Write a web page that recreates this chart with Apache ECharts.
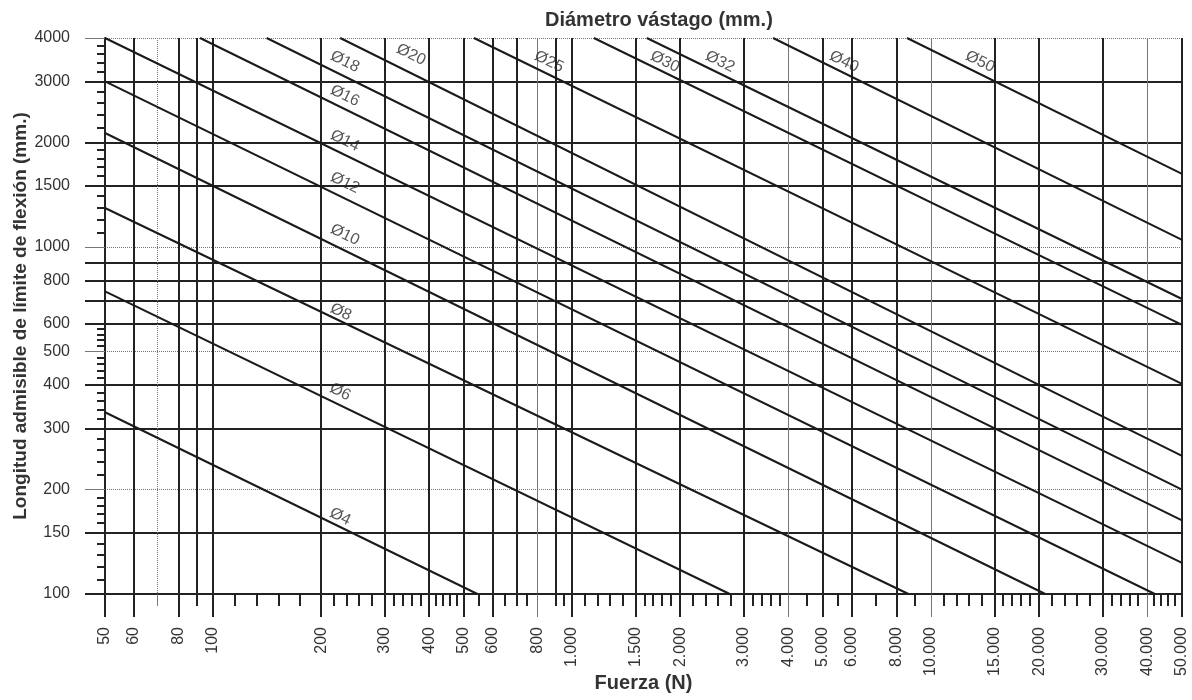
<!DOCTYPE html>
<html>
<head>
<meta charset="utf-8">
<title>Longitud admisible de límite de flexión</title>
<script src="https://cdn.jsdelivr.net/npm/echarts@6/dist/echarts.min.js"></script>
<style>
  html, body { margin: 0; padding: 0; background: #fff; }
  #flexChart { width: 1192px; height: 700px; }
</style>
</head>
<body>
<div id="flexChart"></div>
<script>
/* diámetros del vástago */
var diametros = ['Ø4', 'Ø6', 'Ø8', 'Ø10', 'Ø12', 'Ø14', 'Ø16', 'Ø18', 'Ø20', 'Ø25', 'Ø30', 'Ø32', 'Ø40', 'Ø50'];

/* punto inicial de cada recta [fuerza N, longitud mm] */
var inicio = [
    [50, 334], [50, 745], [50, 1295], [50, 2130], [50, 3000], [50, 4000], [92, 4000],
    [141, 4000], [226, 4000], [533, 4000], [1150, 4000], [1615, 4000], [3630, 4000], [8570, 4000]
];

/* punto final de cada recta */
var fin = [
    [545, 100], [2750, 100], [8650, 100], [20800, 100], [42000, 100], [50000, 123], [50000, 163],
    [50000, 200], [50000, 250], [50000, 403], [50000, 596], [50000, 708], [50000, 1048], [50000, 1624]
];

/* donde va el rotulo de cada diametro */
var rotulo = [
    [226, 167], [226, 382], [227, 649], [233, 1083], [233, 1530], [233, 2022], [233, 2726],
    [233, 3417], [356, 3579], [863, 3417], [1814, 3417], [2583, 3417], [5722, 3417], [13685, 3417]
];

/* eje X (fuerza) */
var xGrueso = [50, 60, 80, 100, 200, 300, 400, 500, 600, 1000, 1500, 2000, 3000, 5000, 6000, 8000, 15000, 20000, 30000, 50000];
var xFino = [800, 4000, 10000, 40000];
var xSinTexto = [90, 700, 900];
var xSinTextoFino = [70];
var xMenor = [115, 132, 152, 174, 217, 235, 255, 277, 318, 337, 358, 379, 418, 436, 456, 478,
    550, 650, 750, 950, 1084, 1176, 1275, 1383, 1589, 1683, 1783, 1888, 2170, 2352, 2550, 2766,
    3178, 3367, 3566, 3777, 4500, 5500, 7000, 9000, 10845, 11761, 12754, 13832, 15887, 16829, 17826, 18883,
    21689, 23522, 25508, 27663, 31776, 33659, 35654, 37766, 41786, 43653, 45604, 47643];

/* eje Y (longitud) */
var yGrueso = [100, 150, 300, 400, 600, 700, 800, 900, 1500, 2000, 3000];
var yGruesoTexto = [100, 150, 300, 400, 600, 800, 1500, 2000, 3000];
var yFino = [200, 500, 1000, 4000];
var yMenor = [110, 120, 130, 140, 160, 170, 180, 190, 220, 240, 260, 280, 320, 340, 360, 380,
    420, 440, 460, 480, 520, 540, 560, 580, 1100, 1200, 1300, 1400, 1600, 1700, 1800, 1900,
    2200, 2400, 2600, 2800, 3200, 3400, 3600, 3800];

var fuente = "'Liberation Sans', Arial, sans-serif";
var negro = '#222';
var gris = '#777';

/* 1.000 / 10.000 */
function miles(v) {
    return String(Math.round(v)).replace(/\B(?=(\d{3})+(?!\d))/g, '.');
}

function entero(v) {
    return String(Math.round(v));
}

function ejeX(ticks, labels, largo, ancho, color, conLinea) {
    return {
        type: 'log', logBase: 10, min: 50, max: 50000, position: 'bottom', gridIndex: 0,
        axisLine: { show: conLinea, lineStyle: { color: negro, width: 2 } },
        axisTick: { show: true, customValues: ticks, length: largo, lineStyle: { color: color, width: ancho } },
        axisLabel: {
            show: labels != null, customValues: labels || [], rotate: 90, margin: 33,
            fontSize: 16, color: '#333', fontFamily: fuente, formatter: miles
        },
        splitLine: { show: false },
        minorTick: { show: false }
    };
}

function ejeY(ticks, labels, largo, ancho, color, conLinea) {
    return {
        type: 'log', logBase: 10, min: 100, max: 4000, position: 'left', gridIndex: 0,
        axisLine: { show: conLinea, lineStyle: { color: negro, width: 2 } },
        axisTick: { show: true, customValues: ticks, length: largo, lineStyle: { color: color, width: ancho } },
        axisLabel: {
            show: labels != null, customValues: labels || [], margin: 35,
            fontSize: 16, color: '#333', fontFamily: fuente, formatter: entero
        },
        splitLine: { show: false }
    };
}

var xAxis = [
    ejeX(xGrueso, xGrueso, 23, 2, negro, true),
    ejeX(xFino, xFino, 23, 1, gris, false),
    ejeX(xSinTexto, null, 12, 2, negro, false),
    ejeX(xSinTextoFino, null, 12, 1, gris, false),
    ejeX(xMenor, null, 12, 2, negro, false)
];
xAxis[0].splitLine = { show: true, lineStyle: { color: negro, width: 2 } };
xAxis[1].splitLine = { show: true, lineStyle: { color: gris, width: 1 } };
xAxis[2].splitLine = { show: true, lineStyle: { color: negro, width: 2 } };
xAxis[3].splitLine = { show: true, lineStyle: { color: gris, width: 1, type: 'dotted' } };
xAxis[0].name = 'Fuerza (N)';
xAxis[0].nameLocation = 'middle';
xAxis[0].nameGap = 79;
xAxis[0].nameMoveOverlap = false;
xAxis[0].nameTextStyle = { fontSize: 20, fontWeight: 'bold', color: '#333', fontFamily: fuente };

var yAxis = [
    ejeY(yGrueso, yGruesoTexto, 20, 2, negro, true),
    ejeY(yFino, yFino, 20, 1, gris, false),
    ejeY(yMenor, null, 8, 2, negro, false)
];
yAxis[0].splitLine = { show: true, lineStyle: { color: negro, width: 2 } };
yAxis[1].splitLine = { show: true, lineStyle: { color: gris, width: 1, type: 'dotted' } };
yAxis[0].name = 'Longitud admisible de límite de flexión (mm.)';
yAxis[0].nameLocation = 'middle';
yAxis[0].nameGap = 75;
yAxis[0].nameMoveOverlap = false;
yAxis[0].nameTextStyle = { fontSize: 19, fontWeight: 'bold', color: '#333', fontFamily: fuente };

var series = [];
for (var i = 0; i < diametros.length; i++) {
    series.push({
        name: diametros[i],
        type: 'line',
        xAxisIndex: 0, yAxisIndex: 0,
        data: [inicio[i], fin[i]],
        symbol: 'none',
        silent: true,
        lineStyle: { color: '#1a1a1a', width: 2 }
    });
}

var datosRotulo = [];
for (var j = 0; j < diametros.length; j++) {
    datosRotulo.push({ name: diametros[j], value: rotulo[j] });
}
series.push({
    type: 'scatter',
    xAxisIndex: 0, yAxisIndex: 0,
    symbolSize: 0,
    silent: true,
    data: datosRotulo,
    label: {
        show: true, position: 'inside', formatter: '{b}', rotate: -26,
        fontSize: 16, color: '#2a2a2a', fontFamily: fuente
    }
});

var flexChart = echarts.init(document.getElementById('flexChart'));
var option = {
    animation: false,
    backgroundColor: '#fff',
    title: {
        text: 'Diámetro vástago (mm.)',
        left: 545, top: 10, padding: 0,
        textStyle: { fontSize: 20, fontWeight: 'bold', color: '#333', fontFamily: fuente }
    },
    grid: { left: 105, right: 10, top: 38, bottom: 106, containLabel: false, outerBoundsMode: 'none' },
    xAxis: xAxis,
    yAxis: yAxis,
    series: series
};
flexChart.setOption(option);
</script>
</body>
</html>
